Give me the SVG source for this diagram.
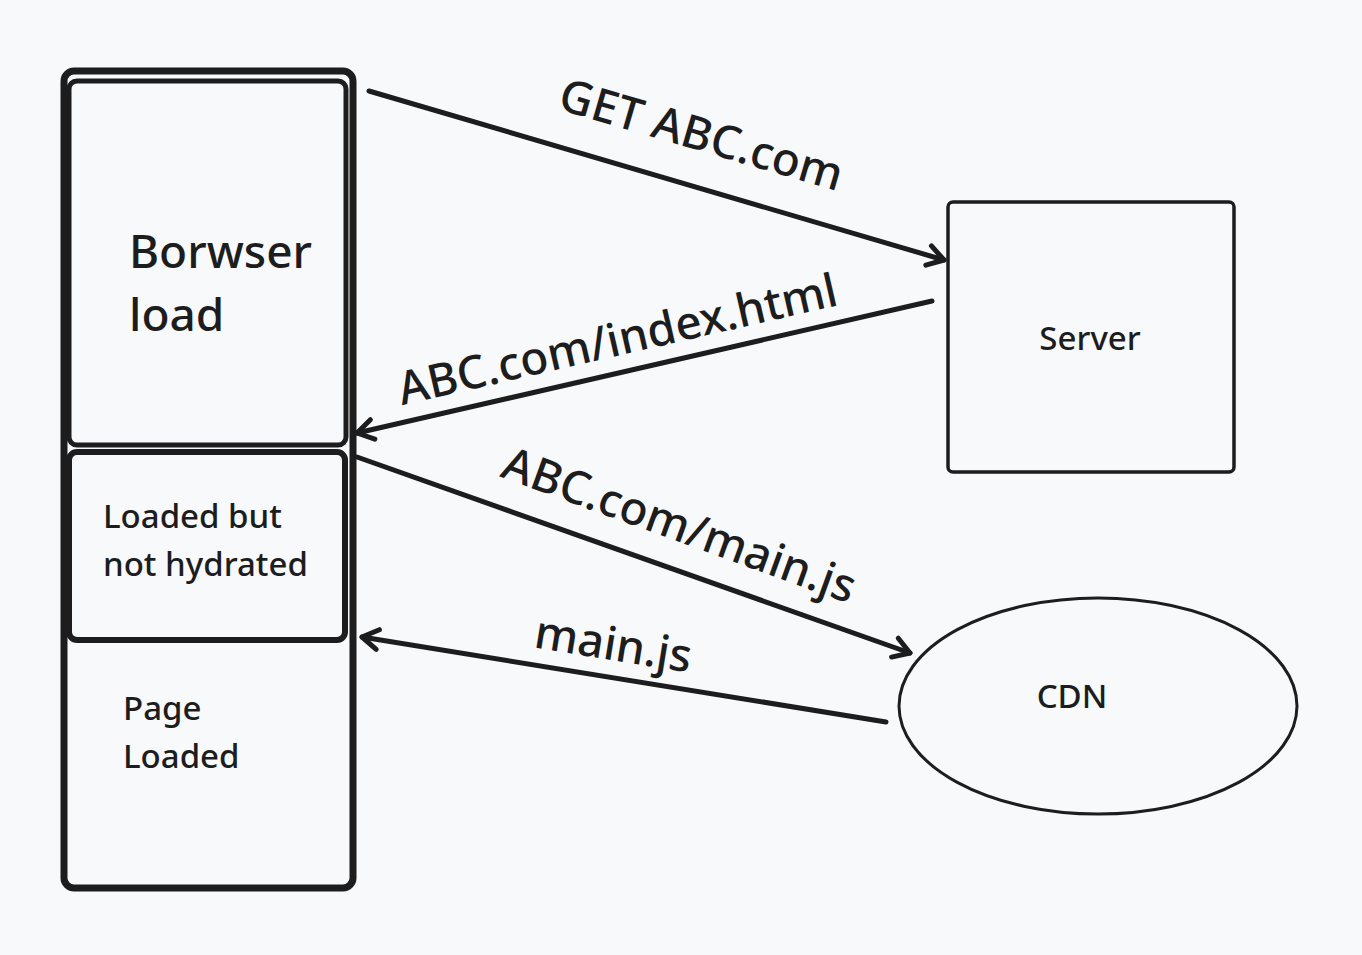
<svg xmlns="http://www.w3.org/2000/svg" width="1362" height="955" viewBox="0 0 1362 955">
<defs>
<style>
.bg{fill:#f8f9fb}
.box{fill:none;stroke:#1d1d1d;stroke-linejoin:round}
.t{font-family:"Noto Sans","Liberation Sans",sans-serif;fill:#1d1d1d;font-weight:500}
.big{font-size:46px}
.mid{font-size:33px}
.lbl{font-size:46px}
.conn{fill:none;stroke:#1d1d1d;stroke-width:5;stroke-linecap:round}
</style>
<marker id="ah" markerUnits="userSpaceOnUse" markerWidth="40" markerHeight="40" refX="20" refY="20" orient="auto" viewBox="0 0 40 40" overflow="visible">
<path d="M4 10 L20 20 L4 30" fill="none" stroke="#1d1d1d" stroke-width="5" stroke-linecap="round" stroke-linejoin="round"/>
</marker>
</defs>
<rect class="bg" x="0" y="0" width="1362" height="955"/>
<g id="browser">
<rect class="box" x="64" y="71" width="289" height="817" rx="10" stroke-width="7"/>
</g>
<g id="borwser-load">
<rect class="box" x="69" y="81" width="277" height="364" rx="8" stroke-width="5"/>
<text class="t big" x="129" y="268">Borwser</text>
<text class="t big" x="129" y="331">load</text>
</g>
<g id="loaded-not-hydrated">
<rect class="box" x="69" y="452" width="276" height="188" rx="8" stroke-width="6"/>
<text class="t mid" x="103" y="528">Loaded but</text>
<text class="t mid" x="103" y="576">not hydrated</text>
</g>
<g id="page-loaded">
<text class="t mid" x="123" y="720">Page</text>
<text class="t mid" x="123" y="768">Loaded</text>
</g>
<g id="server">
<rect class="box" x="948" y="202" width="286" height="270" rx="5" stroke-width="3.5"/>
<text class="t mid" x="1090" y="350" text-anchor="middle">Server</text>
</g>
<g id="cdn">
<ellipse class="box" cx="1098" cy="706" rx="199" ry="108" stroke-width="3"/>
<text class="t mid" x="1072" y="708" text-anchor="middle">CDN</text>
</g>
<g id="connectors">
<line class="conn" x1="369" y1="91" x2="944" y2="260" marker-end="url(#ah)"/>
<line class="conn" x1="932" y1="301" x2="357" y2="433" marker-end="url(#ah)"/>
<line class="conn" x1="357" y1="457" x2="910" y2="653" marker-end="url(#ah)"/>
<line class="conn" x1="886" y1="722" x2="362" y2="637" marker-end="url(#ah)"/>
<text class="t lbl" text-anchor="middle" transform="translate(697,150) rotate(16.3)">GET ABC.com</text>
<text class="t lbl" text-anchor="middle" transform="translate(621,355) rotate(-12.9)">ABC.com/index.html</text>
<text class="t lbl" text-anchor="middle" transform="translate(674,540) rotate(20)">ABC.com/main.js</text>
<text class="t lbl" text-anchor="middle" transform="translate(611,660) rotate(9.2)">main.js</text>
</g>
</svg>
